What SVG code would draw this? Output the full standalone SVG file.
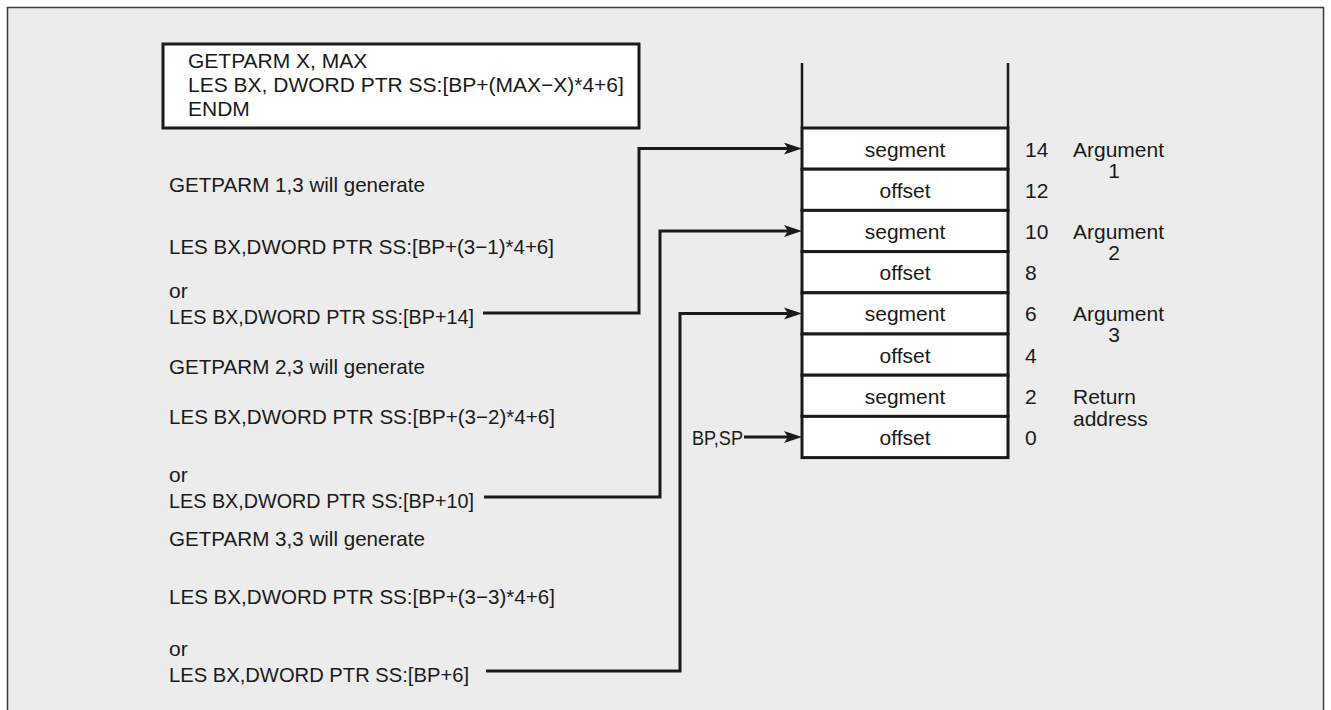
<svg xmlns="http://www.w3.org/2000/svg" width="1331" height="710" viewBox="0 0 1331 710">
<style>
  text { font-family: "Liberation Sans", Arial, Helvetica, sans-serif; font-size: 21px; fill: #1a1a1a; }
  .mid { text-anchor: middle; }
  .cell { fill: #ffffff; stroke: #1a1a1a; stroke-width: 3; }
  .wall { fill: none; stroke: #1a1a1a; stroke-width: 2.5; }
  .conn { fill: none; stroke: #1a1a1a; stroke-width: 3; }
</style>
<defs>
  <marker id="arr" markerUnits="userSpaceOnUse" markerWidth="20" markerHeight="14" refX="12" refY="6" orient="auto">
    <path d="M0,0 L18,6 L0,12 L4,6 Z" fill="#1a1a1a"/>
  </marker>
</defs>

<rect x="0" y="0" width="1331" height="710" fill="#ffffff"/>
<rect id="frame" x="7.5" y="7.5" width="1316" height="710" fill="#ececec" stroke="#3a3a3a" stroke-width="1.5"/>

<g id="macro">
  <rect x="163" y="44" width="476" height="84" fill="#ffffff" stroke="#1a1a1a" stroke-width="3"/>
  <text x="188" y="68">GETPARM X, MAX</text>
  <text x="188" y="92">LES BX, DWORD PTR SS:[BP+(MAX−X)*4+6]</text>
  <text x="188" y="116">ENDM</text>
</g>

<g id="call1">
  <text x="169" y="192" textLength="256" lengthAdjust="spacingAndGlyphs">GETPARM 1,3 will generate</text>
  <text x="169" y="254" textLength="385" lengthAdjust="spacingAndGlyphs">LES BX,DWORD PTR SS:[BP+(3−1)*4+6]</text>
  <text x="169" y="298">or</text>
  <text x="169" y="324" textLength="305" lengthAdjust="spacingAndGlyphs">LES BX,DWORD PTR SS:[BP+14]</text>
</g>

<g id="call2">
  <text x="169" y="374" textLength="256" lengthAdjust="spacingAndGlyphs">GETPARM 2,3 will generate</text>
  <text x="169" y="424" textLength="386" lengthAdjust="spacingAndGlyphs">LES BX,DWORD PTR SS:[BP+(3−2)*4+6]</text>
  <text x="169" y="482">or</text>
  <text x="169" y="508" textLength="305" lengthAdjust="spacingAndGlyphs">LES BX,DWORD PTR SS:[BP+10]</text>
</g>

<g id="call3">
  <text x="169" y="546" textLength="256" lengthAdjust="spacingAndGlyphs">GETPARM 3,3 will generate</text>
  <text x="169" y="604" textLength="386" lengthAdjust="spacingAndGlyphs">LES BX,DWORD PTR SS:[BP+(3−3)*4+6]</text>
  <text x="169" y="656">or</text>
  <text x="169" y="682" textLength="300" lengthAdjust="spacingAndGlyphs">LES BX,DWORD PTR SS:[BP+6]</text>
</g>

<g id="stack">
  <line class="wall" x1="802" y1="63" x2="802" y2="128"/>
  <line class="wall" x1="1008" y1="63" x2="1008" y2="128"/>
  <rect class="cell" x="802" y="128" width="206" height="41.2"/>
  <rect class="cell" x="802" y="169.2" width="206" height="41.2"/>
  <rect class="cell" x="802" y="210.4" width="206" height="41.2"/>
  <rect class="cell" x="802" y="251.6" width="206" height="41.2"/>
  <rect class="cell" x="802" y="292.8" width="206" height="41.2"/>
  <rect class="cell" x="802" y="334" width="206" height="41.2"/>
  <rect class="cell" x="802" y="375.2" width="206" height="41.2"/>
  <rect class="cell" x="802" y="416.4" width="206" height="41.2"/>
  <text class="mid" x="905" y="156.6">segment</text>
  <text class="mid" x="905" y="197.8">offset</text>
  <text class="mid" x="905" y="239">segment</text>
  <text class="mid" x="905" y="280.2">offset</text>
  <text class="mid" x="905" y="321.4">segment</text>
  <text class="mid" x="905" y="362.6">offset</text>
  <text class="mid" x="905" y="403.8">segment</text>
  <text class="mid" x="905" y="445">offset</text>
</g>

<g id="offsets">
  <text x="1025" y="156.6">14</text>
  <text x="1025" y="197.8">12</text>
  <text x="1025" y="239">10</text>
  <text x="1025" y="280.2">8</text>
  <text x="1025" y="321.4">6</text>
  <text x="1025" y="362.6">4</text>
  <text x="1025" y="403.8">2</text>
  <text x="1025" y="445">0</text>
</g>

<g id="labels">
  <text x="1073" y="156.6">Argument</text>
  <text class="mid" x="1114" y="177.6">1</text>
  <text x="1073" y="239">Argument</text>
  <text class="mid" x="1114" y="260">2</text>
  <text x="1073" y="321.4">Argument</text>
  <text class="mid" x="1114" y="342.4">3</text>
  <text x="1073" y="403.8">Return</text>
  <text x="1073" y="425.8">address</text>
</g>

<g id="bpsp">
  <text x="692" y="445" textLength="51" lengthAdjust="spacingAndGlyphs">BP,SP</text>
</g>

<g id="connectors">
  <path class="conn" d="M483,313 H639 V148.6 H796" marker-end="url(#arr)"/>
  <path class="conn" d="M484,497 H660 V231 H796" marker-end="url(#arr)"/>
  <path class="conn" d="M486,671 H680 V313.4 H796" marker-end="url(#arr)"/>
  <path class="conn" d="M744,437 H796" marker-end="url(#arr)"/>
</g>
</svg>
